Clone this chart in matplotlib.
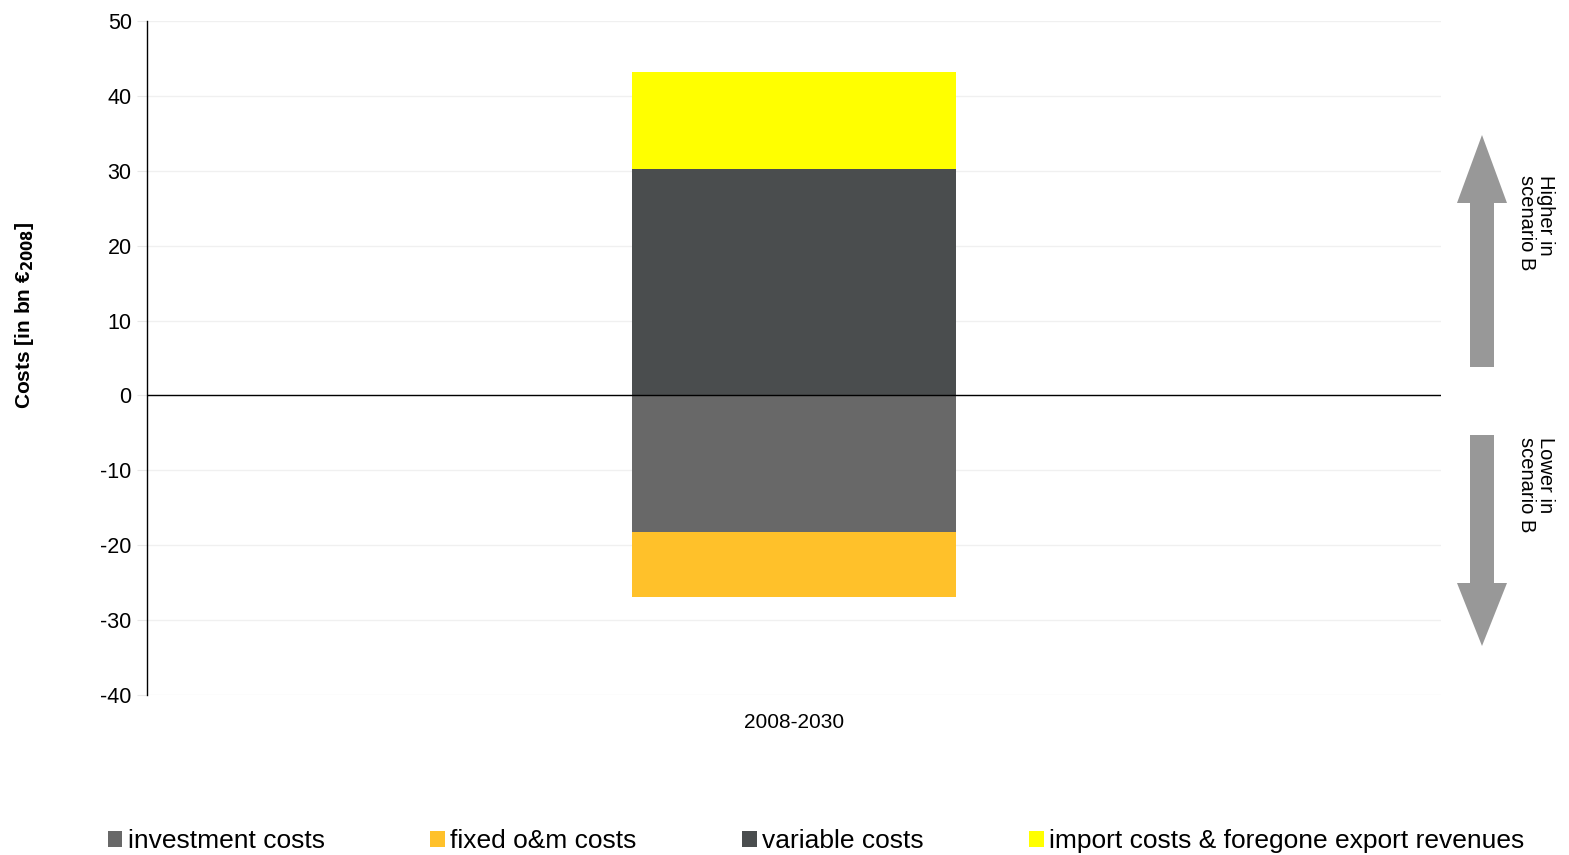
import matplotlib
matplotlib.use("Agg")
import matplotlib.pyplot as plt
from matplotlib.patches import FancyArrow, Patch

plt.rcParams["font.family"] = ["Liberation Sans", "DejaVu Sans"]
plt.rcParams["axes.unicode_minus"] = False

# cost differences, scenario B vs reference (bn EUR 2008)
period = ["2008-2030"]
investment = [-18.3]
fixed_om = [-8.6]
variable = [30.3]
imports = [12.9]

labels = ["investment costs", "fixed o&m costs", "variable costs",
          "import costs & foregone export revenues"]
colors = ["#686868", "#FFC12A", "#4A4D4E", "#FFFF00"]

fig = plt.figure(figsize=(15.69, 8.55), dpi=100)
ax = fig.add_axes([147 / 1569, 1 - 695 / 855, 1294 / 1569, 674 / 855])

x = [0]
ax.bar(x, investment, width=1, color=colors[0], zorder=2)
ax.bar(x, fixed_om, width=1, bottom=investment, color=colors[1], zorder=2)
ax.bar(x, variable, width=1, color=colors[2], zorder=2)
ax.bar(x, imports, width=1, bottom=variable, color=colors[3], zorder=2)

ax.axhline(0, color="black", linewidth=1, zorder=3)

ax.set_xlim(-2, 2)
ax.set_ylim(-40, 50)
ax.set_yticks(range(-40, 51, 10))
ax.set_xticks(x)
ax.set_xticklabels(period, fontsize=15)
ax.tick_params(axis="x", length=0, pad=13)
ax.tick_params(axis="y", labelsize=15.5, length=7, color="#E8E8E8", pad=4)
ax.yaxis.grid(True, color="#F0F0F0", linewidth=1)
ax.set_axisbelow(True)
for s in ["top", "right", "bottom"]:
    ax.spines[s].set_visible(False)
ax.spines["left"].set_linewidth(1)

fig.text(25 / 1569, 1 - 315 / 855, r"Costs [in bn €$_{\mathbf{2008}}$]",
         rotation=90, ha="center", va="center", fontsize=15, fontweight="bold")

# arrows on the right side, drawn in pixel coordinates
deco = fig.add_axes([0, 0, 1, 1], zorder=-1)
deco.set_xlim(0, 1569)
deco.set_ylim(855, 0)
deco.axis("off")
deco.add_patch(FancyArrow(1482, 367, 0, -232, width=24, head_width=50,
                          head_length=68, length_includes_head=True,
                          color="#989898", linewidth=0))
deco.add_patch(FancyArrow(1482, 435, 0, 211, width=24, head_width=50,
                          head_length=63, length_includes_head=True,
                          color="#989898", linewidth=0))
deco.text(1536, 175, "Higher in\nscenario B", rotation=270, ha="center",
          va="top", multialignment="left", fontsize=14.5, linespacing=1.0)
deco.text(1536, 437, "Lower in\nscenario B", rotation=270, ha="center",
          va="top", multialignment="left", fontsize=14.5, linespacing=1.0)

handles = [Patch(facecolor=c, edgecolor="none") for c in colors]
fig.legend(handles, labels, loc="center", ncol=4, frameon=False,
           bbox_to_anchor=(816 / 1569, 1 - 841 / 855), fontsize=19,
           handlelength=0.55, handleheight=0.55, handletextpad=0.2,
           columnspacing=4.0, borderpad=0)

fig.savefig("out.png", dpi=100)
